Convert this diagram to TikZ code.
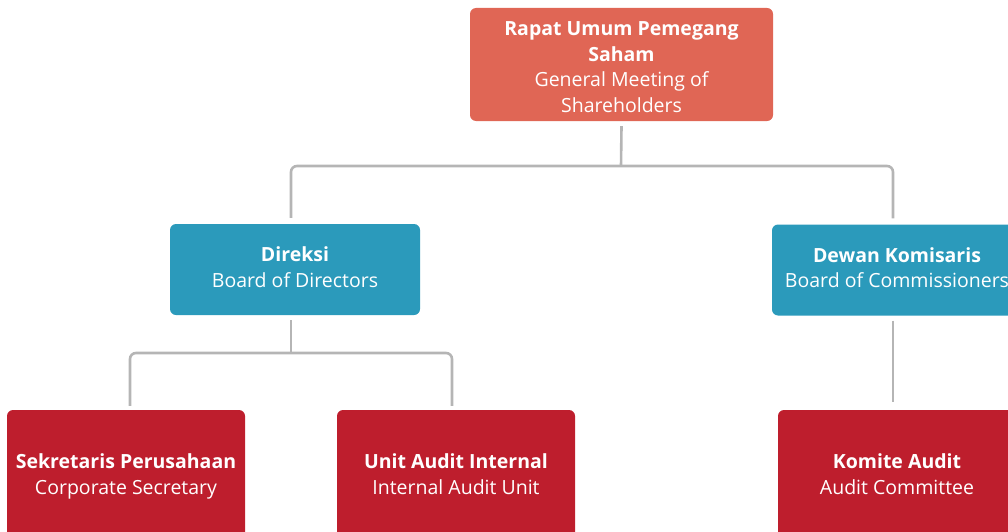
\documentclass[tikz,border=0pt]{standalone}
\usepackage{fontspec}
\setmainfont{Open Sans}
\definecolor{topc}{HTML}{E06655}
\definecolor{midc}{HTML}{2B9ABB}
\definecolor{botc}{HTML}{BE1E2D}
\definecolor{linec}{HTML}{B5B5B5}
\begin{document}
\begin{tikzpicture}[x=1pt,y=-1pt,
  box/.style={rounded corners=6pt, inner sep=0pt},
  txt/.style={text=white, align=center, inner sep=0pt,
    font=\fontsize{19.5}{25.5}\selectfont},
  topbox/.style={box, fill=topc, minimum width=303pt, minimum height=113pt},
  midbox/.style={box, fill=midc, minimum width=250pt, minimum height=91pt},
  botbox/.style={box, fill=botc, minimum width=238pt, minimum height=128pt},
  conn/.style={draw=linec, line width=2.6pt, rounded corners=6pt}]
\useasboundingbox (0,0) rectangle (1008,532);
\clip (0,0) rectangle (1008,532);
\node[topbox] (top) at (621.5,64.5) {};
\node[midbox] (dir) at (295,269.5) {};
\node[midbox] (dew) at (897,270) {};
\node[botbox] (sek) at (126,474) {};
\node[botbox] (uai) at (456,474) {};
\node[botbox] (kom) at (897,474) {};
\node[txt] (topt) at ([yshift=-4.5pt]top.center) {\strut\textbf{Rapat Umum Pemegang}\\\strut\textbf{Saham}\\\strut General Meeting of\\\strut Shareholders};
\node[txt] (dirt) at (dir.center) {\strut\textbf{Direksi}\\\strut Board of Directors};
\node[txt] (dewt) at (dew.center) {\strut\textbf{Dewan Komisaris}\\\strut Board of Commissioners};
\node[txt] (sekt) at ([yshift=-2.5pt]sek.center) {\strut\textbf{Sekretaris Perusahaan}\\\strut Corporate Secretary};
\node[txt] (uait) at ([yshift=-2.5pt]uai.center) {\strut\textbf{Unit Audit Internal}\\\strut Internal Audit Unit};
\node[txt] (komt) at ([yshift=-2.5pt]kom.center) {\strut\textbf{Komite Audit}\\\strut Audit Committee};
\coordinate (j1) at (621,166);
\coordinate (j2) at (291,353);
\draw[conn] ([yshift=-5pt]top.south) -- (j1);
\draw[conn] ([xshift=-4pt,yshift=6pt]dir.north) |- (j1) -| ([xshift=-4pt,yshift=6pt]dew.north);
\draw[conn] ([xshift=-4pt,yshift=-5pt]dir.south) -- (j2);
\draw[conn] ([xshift=4pt,yshift=4pt]sek.north) |- (j2) -| ([xshift=-4pt,yshift=4pt]uai.north);
\draw[conn] ([xshift=-4pt,yshift=-5pt]dew.south) -- ([xshift=-4pt,yshift=8pt]kom.north);
\end{tikzpicture}
\end{document}
